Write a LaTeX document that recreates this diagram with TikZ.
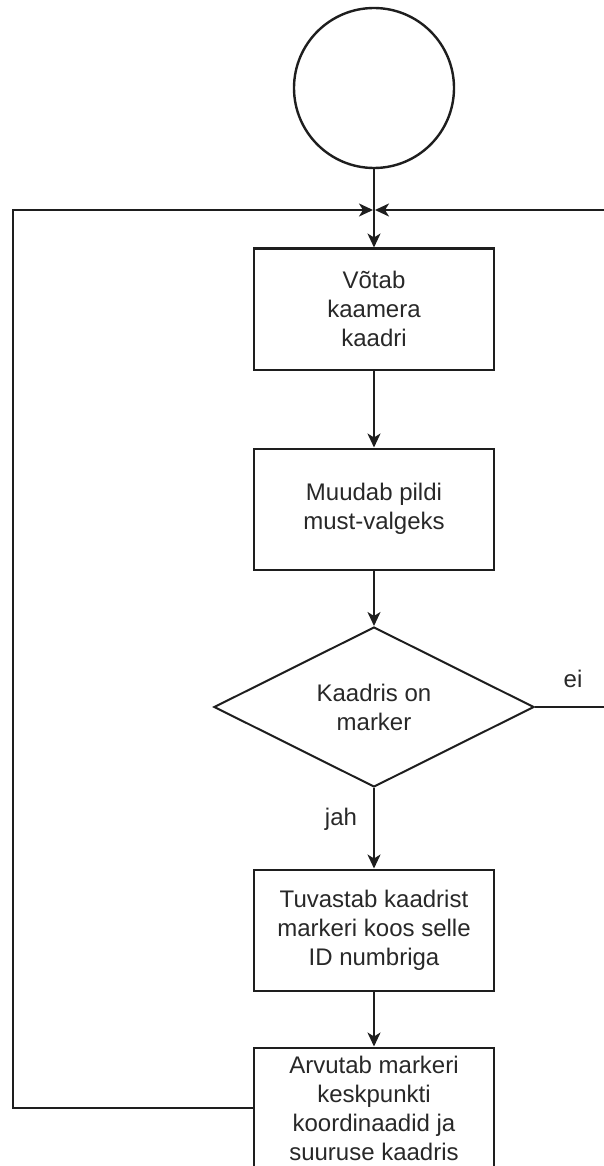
\documentclass[tikz,border=0pt]{standalone}
\usepackage{fontspec}
\setmainfont{Liberation Sans}
\usetikzlibrary{arrows.meta,shapes.geometric}
\definecolor{linec}{RGB}{30,30,30}
\definecolor{textc}{RGB}{40,40,40}
\tikzset{
  every node/.style={font=\fontsize{24}{29}\selectfont, text=textc},
  procbox/.style={draw=linec, line width=2pt, rectangle, minimum width=240pt, minimum height=121pt, align=center, inner sep=0pt},
  decbox/.style={draw=linec, line width=2pt, diamond, aspect=2, minimum width=320pt, minimum height=160pt, align=center, inner sep=0pt},
  startc/.style={draw=linec, line width=2.4pt, circle, minimum size=160pt, inner sep=0pt},
  conn/.style={draw=linec, line width=2pt},
  arr/.style={conn, -{Stealth[length=14pt,width=13pt,inset=4pt]}},
  lbl/.style={font=\fontsize{24}{29}\selectfont, text=textc, inner sep=0pt}
}
\begin{document}
\begin{tikzpicture}[x=1pt,y=-1pt]
\useasboundingbox (0,0) rectangle (603,1166);
\node[startc] (start) at (374,88) {};
\node[procbox] (b1) at (374,309) {Võtab\\kaamera\\kaadri};
\node[procbox] (b2) at (374,509) {Muudab pildi\\must-valgeks};
\node[decbox] (d) at (374,707) {Kaadris on\\marker};
\node[procbox] (b3) at (374,930) {Tuvastab kaadrist\\markeri koos selle\\ID numbriga};
\node[procbox] (b4) at (374,1108) {Arvutab markeri\\keskpunkti\\koordinaadid ja\\suuruse kaadris};
\coordinate (jl) at (373,210);
\coordinate (jr) at (375,210);
\coordinate (lc1) at (13,1108);
\coordinate (lc2) at (13,210);
\coordinate (rc1) at (606,707);
\coordinate (rc2) at (606,210);
\node[lbl] (ei) at (573,679) {ei};
\node[lbl] (jah) at (341,819) {jah};
\draw[arr] (start.south) -- (b1.north);
\draw[arr] (b1.south) -- (b2.north);
\draw[arr] (b2.south) -- (d.north);
\draw[arr] (d.south) -- (b3.north);
\draw[arr] (b3.south) -- (b4.north);
\draw[arr] (b4.west) -- (lc1) -- (lc2) -- (jl);
\draw[arr] (d.east) -- (rc1) -- (rc2) -- (jr);
\end{tikzpicture}
\end{document}
